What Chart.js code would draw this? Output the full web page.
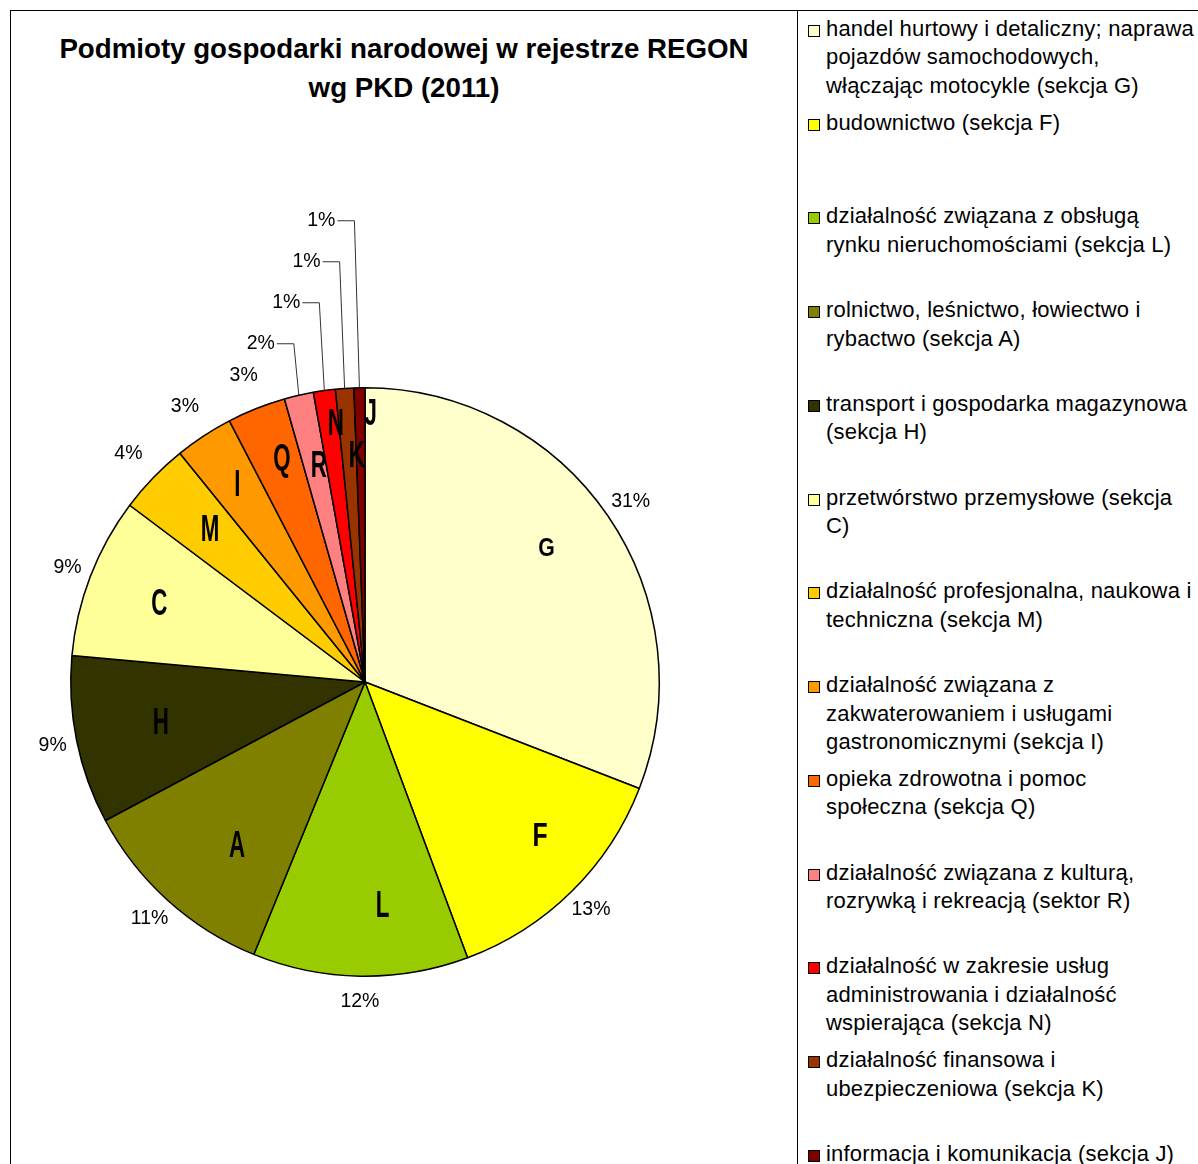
<!DOCTYPE html>
<html lang="pl">
<head>
<meta charset="utf-8">
<title>Podmioty gospodarki narodowej w rejestrze REGON wg PKD (2011)</title>
<script src="https://cdn.jsdelivr.net/npm/chart.js@4/dist/chart.umd.min.js"></script>
<style>
    html, body { margin: 0; padding: 0; background: #fff; overflow: hidden; }
    body { width: 1198px; height: 1164px; position: relative; font-family: "Liberation Sans", Arial, sans-serif; }
    .frame { position: absolute; left: 10px; top: 10px; width: 1300px; height: 1300px; border: 1px solid #000; }
    .divider { position: absolute; left: 797px; top: 10px; height: 1200px; border-left: 1px solid #000; }
    .title { position: absolute; left: 11px; top: 29px; width: 786px; text-align: center;
             font-weight: bold; font-size: 27.7px; line-height: 39px; color: #000; }
    .chart-box { position: absolute; left: 11px; top: 11px; width: 786px; height: 1153px; }
    .legend { position: absolute; left: 806px; top: 0; }
    .legend-item { position: absolute; left: 0; white-space: nowrap; font-size: 22px; letter-spacing: 0.2px; line-height: 28.5px; color: #000; }
    .legend-item .box { position: absolute; left: 2px; top: 10px; width: 10px; height: 10px; border: 1px solid #000; }
    .legend-item .txt { position: absolute; left: 20px; top: 0; }
</style>
</head>
<body>
<div class="frame"></div>
<div class="divider"></div>
<div class="title">Podmioty gospodarki narodowej w rejestrze REGON<br>wg PKD (2011)</div>
<div class="chart-box"><canvas id="wykres" width="786" height="1153"></canvas></div>
<div class="legend"></div>

<script>
// sekcje PKD, od góry zgodnie z ruchem wskazówek zegara
const sekcje = ["G", "F", "L", "A", "H", "C", "M", "I", "Q", "R", "N", "K", "J"];

const etykiety = [
    ["handel hurtowy i detaliczny; naprawa", "pojazdów samochodowych,", "włączając motocykle (sekcja G)"],
    ["budownictwo (sekcja F)"],
    ["działalność związana z obsługą", "rynku nieruchomościami (sekcja L)"],
    ["rolnictwo, leśnictwo, łowiectwo i", "rybactwo (sekcja A)"],
    ["transport i gospodarka magazynowa", "(sekcja H)"],
    ["przetwórstwo przemysłowe (sekcja", "C)"],
    ["działalność profesjonalna, naukowa i", "techniczna (sekcja M)"],
    ["działalność związana z", "zakwaterowaniem i usługami", "gastronomicznymi (sekcja I)"],
    ["opieka zdrowotna i pomoc", "społeczna (sekcja Q)"],
    ["działalność związana z kulturą,", "rozrywką i rekreacją (sektor R)"],
    ["działalność w zakresie usług", "administrowania i działalność", "wspierająca (sekcja N)"],
    ["działalność finansowa i", "ubezpieczeniowa (sekcja K)"],
    ["informacja i komunikacja (sekcja J)"]
];

// udział w %
const udzial = [30.8, 13.4, 11.8, 11.0, 9.2, 8.8, 3.9, 3.2, 3.2, 1.6, 1.2, 1.0, 0.6];

const kolory = ["#FFFFCC", "#FFFF00", "#99CC00", "#808000", "#333300", "#FFFF99",
                "#FFCC00", "#FF9900", "#FF6600", "#FF8080", "#FF0000", "#993300", "#800000"];

// --- etykiety na wykresie: litery w środku i procenty na zewnątrz ---
const etykietyPlugin = {
    id: "etykiety",
    afterDatasetsDraw(chart) {
        const ctx = chart.ctx;
        const meta = chart.getDatasetMeta(0);
        const dane = chart.data.datasets[0].data;
        const suma = dane.reduce((a, b) => a + b, 0);
        let maleIdx = 0;

        // litery - pozycja promieniowa (ułamek R) dla wąskich wycinków + drobne przesunięcia jak w oryginale
        const promienLiter = { I: 0.81, Q: 0.82, K: 0.79, N: 0.89, J: 0.93 };
        const przesun = {
            G: [-3, -8], F: [18, -5], L: [21, 0], A: [22, -2], H: [15, -3], C: [3, 2],
            M: [6, 3], I: [3, 2], Q: [6, 1], R: [4, 2], N: [7, 1], K: [8, 6], J: [11, 6]
        };

        meta.data.forEach((arc, i) => {
            const p = arc.getProps(["x", "y", "startAngle", "endAngle", "outerRadius"], true);
            const mid = (p.startAngle + p.endAngle) / 2;
            const cos = Math.cos(mid), sin = Math.sin(mid);
            const R = p.outerRadius;
            const pct = dane[i] / suma * 100;
            const tekst = Math.round(pct) + "%";

            // litera sekcji
            const lit = sekcje[i];
            const f = promienLiter[lit] || 0.76;
            const d = przesun[lit] || [0, 0];
            const lx = p.x + cos * R * f + d[0];
            const ly = p.y + sin * R * f + d[1];
            let rozmiar = 36, skala = 0.62;
            if (lit === "G") { rozmiar = 25; skala = 0.85; }
            if (lit === "F") { rozmiar = 33; skala = 0.75; }
            ctx.save();
            ctx.translate(lx, ly);
            ctx.scale(skala, 1);
            ctx.font = "bold " + rozmiar + "px 'Liberation Sans', Arial, sans-serif";
            ctx.fillStyle = "#000";
            ctx.textAlign = "center";
            ctx.textBaseline = "middle";
            ctx.fillText(lit, 0, 1);
            ctx.restore();

            // procent
            ctx.save();
            ctx.font = "19.5px 'Liberation Sans', Arial, sans-serif";
            ctx.fillStyle = "#000";
            ctx.textBaseline = "middle";
            const w = ctx.measureText(tekst).width;
            if (pct < 2.5) {
                // małe wycinki: etykiety schodkowo w górę z linią odniesienia
                const ex = p.x + cos * R, ey = p.y + sin * R;
                const ty = p.y - R - 44 - 41 * maleIdx;
                ctx.strokeStyle = "#333";
                ctx.lineWidth = 1;
                ctx.beginPath();
                ctx.moveTo(ex, ey);
                ctx.lineTo(ex - 5, ty);
                ctx.lineTo(ex - 22, ty);
                ctx.stroke();
                ctx.textAlign = "right";
                ctx.fillText(tekst, ex - 24, ty);
                maleIdx++;
            } else {
                const r = R + 16 + (pct < 5 ? 10 : 0);
                const tx = p.x + cos * r + cos * w * 0.3;
                const ty = p.y + sin * r + sin * 9;
                ctx.textAlign = "center";
                ctx.fillText(tekst, tx, ty);
            }
            ctx.restore();
        });
    }
};

const wykres = new Chart(document.getElementById("wykres"), {
    type: "pie",
    data: {
        labels: etykiety,
        datasets: [{
            data: udzial,
            backgroundColor: kolory,
            borderColor: "#000",
            borderWidth: 1.5
        }]
    },
    options: {
        responsive: false,
        animation: false,
        layout: { padding: { left: 59, right: 137, top: 376, bottom: 187 } },
        plugins: {
            legend: { display: false },
            title: { display: false },
            tooltip: { enabled: true }
        }
    },
    plugins: [etykietyPlugin]
});

// legenda HTML (zawijanie wierszy jak w oryginale)
const legenda = document.querySelector(".legend");
wykres.data.labels.forEach((linie, i) => {
    const item = document.createElement("div");
    item.className = "legend-item";
    item.style.top = (14.75 + 93.75 * i) + "px";
    const box = document.createElement("span");
    box.className = "box";
    box.style.background = wykres.data.datasets[0].backgroundColor[i];
    const txt = document.createElement("span");
    txt.className = "txt";
    txt.innerHTML = linie.join("<br>");
    item.appendChild(box);
    item.appendChild(txt);
    legenda.appendChild(item);
});
</script>
</body>
</html>
